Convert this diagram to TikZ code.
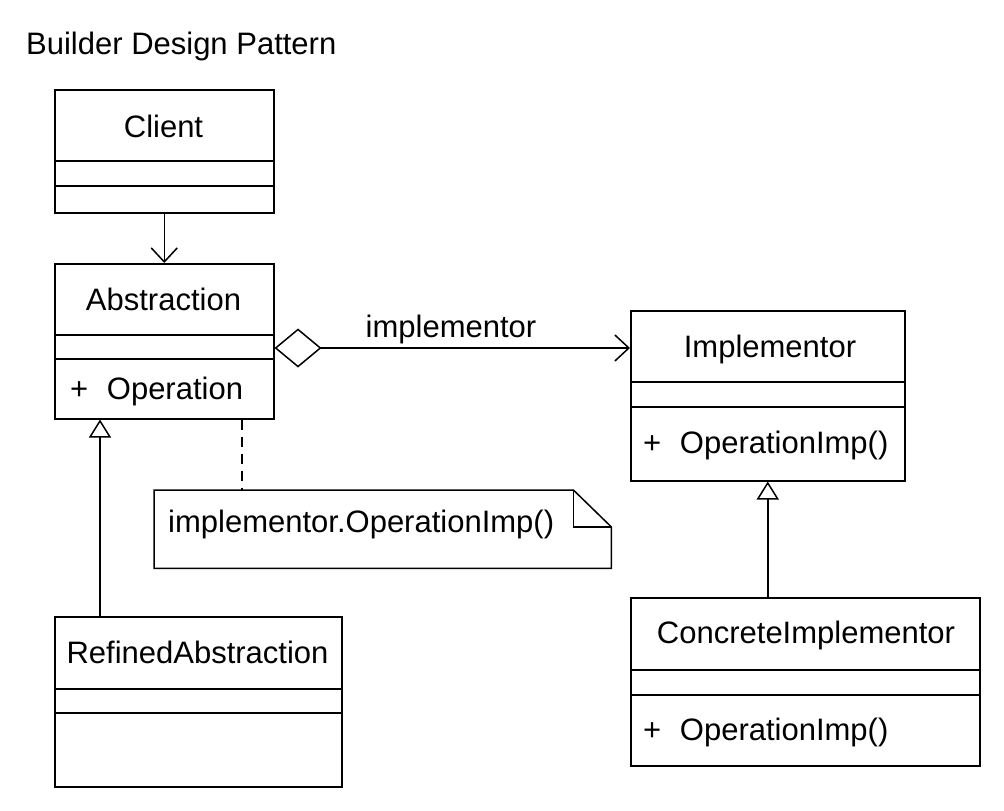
\documentclass[tikz,border=0pt]{standalone}
\usepackage{fontspec}
\setmainfont{Liberation Sans}
\usetikzlibrary{arrows.meta, positioning, calc}

\begin{document}
\begin{tikzpicture}[
    x=1pt, y=-1pt,
    font=\fontsize{31}{37}\selectfont,
    classbox/.style={draw, line width=1.5pt, inner sep=0pt, anchor=north west},
    sepline/.style={line width=1.5pt},
    assoc/.style={line width=1.5pt, -{Straight Barb[length=14pt, width=26pt]}},
    aggr/.style={line width=1.5pt, {Diamond[open, length=47pt, width=39pt]}-{Straight Barb[length=14pt, width=26pt]}},
    gener/.style={line width=1.5pt, -{Triangle[open, length=18pt, width=22pt]}},
    notelink/.style={line width=1.5pt, dash pattern=on 10pt off 7pt}
]
\useasboundingbox (0,0) rectangle (1004,811);

% ---------- helper: class box with two separators ----------
\newcommand{\umlclass}[7]{% name, left, top, right, bottom, sep 1, sep 2
    \node[classbox, minimum width={(#4-#2)*1pt}, minimum height={(#5-#3)*1pt}] (#1) at (#2,#3) {};
    \draw[sepline] (#2,#6) -- (#4,#6);
    \draw[sepline] (#2,#7) -- (#4,#7);
}

% ---------- title ----------
\node[anchor=base west, inner sep=0pt] (title) at (26,54) {Builder Design Pattern};

% ---------- classes ----------
\umlclass{client}{54}{89}{273}{212}{161}{186}
\node[anchor=base] (client-name) at (163.5,137) {Client};

\umlclass{abstraction}{54}{263}{273}{418}{335}{359}
\node[anchor=base] (abstraction-name) at (163.5,310) {Abstraction};
\node[anchor=base west, inner sep=0pt] (abstraction-op) at (70,399) {+\hspace{0.6em}Operation};

\umlclass{refined}{54}{616}{341}{786}{689}{713}
\node[anchor=base] (refined-name) at (197.5,663) {RefinedAbstraction};

\umlclass{implementor}{630}{310}{904}{480}{382}{407}
\node[anchor=base] (implementor-name) at (770,357) {Implementor};
\node[anchor=base west, inner sep=0pt] (implementor-op) at (643,453) {+\hspace{0.6em}OperationImp()};

\umlclass{concrete}{630}{597}{979}{765}{670}{695}
\node[anchor=base] (concrete-name) at (806,643) {ConcreteImplementor};
\node[anchor=base west, inner sep=0pt] (concrete-op) at (643,740) {+\hspace{0.6em}OperationImp()};

% ---------- note ----------
\node[anchor=north west, inner sep=0pt, minimum width=457pt, minimum height=78pt] (note) at (154,490) {};
\draw[sepline] (note.north west) -- ([xshift=-38pt]note.north east) -- ([yshift=-37pt]note.north east)
    -- (note.south east) -- (note.south west) -- cycle;
\draw[sepline] ([xshift=-38pt]note.north east) -- ([xshift=-38pt, yshift=-37pt]note.north east)
    -- ([yshift=-37pt]note.north east);
\node[anchor=base west, inner sep=0pt] (note-text) at (168,532) {implementor.OperationImp()};

% ---------- connectors ----------
\draw[assoc] (client.south) -- (abstraction.north);

\coordinate (agg-start) at (abstraction.north east |- 0,348);
\draw[aggr] (agg-start) -- (agg-start -| implementor.west);
\node[anchor=base] (agg-label) at (451,337) {implementor};

\draw[gener] ([xshift=46pt]refined.north west) -- ([xshift=46pt]refined.north west |- abstraction.south);
\draw[gener] (concrete.north -| implementor.south) -- (implementor.south);

\draw[notelink] ([xshift=188pt]abstraction.south west) -- ([xshift=188pt]abstraction.south west |- note.north);

\end{tikzpicture}
\end{document}
